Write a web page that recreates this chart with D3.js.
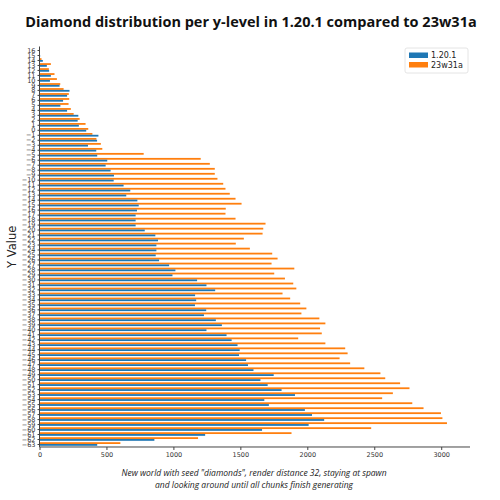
<!DOCTYPE html>
<html>
<head>
<meta charset="utf-8">
<script src="https://cdn.jsdelivr.net/npm/d3@7/dist/d3.min.js"></script>
<style>
  html, body { margin: 0; padding: 0; background: #fff; }
  svg { display: block; }
</style>
</head>
<body>
<svg id="chart" width="500" height="500"></svg>
<script>
// y-levels, top to bottom
const levels = d3.range(16, -64, -1);

// Diamond counts for 1.20.1 (same order as levels)
const v1201 = [
  3, 5, 25, 55, 72, 85, 78, 150, 224, 206,
  176, 156, 206, 290, 285, 294, 349, 440, 430, 362,
  424, 431, 506, 494, 531, 556, 554, 628, 678, 648,
  731, 741, 728, 718, 718, 718, 786, 865, 885, 873,
  873, 868, 893, 968, 1015, 993, 1177, 1247, 1312, 1162,
  1170, 1161, 1245, 1228, 1317, 1362, 1247, 1397, 1435, 1479,
  1495, 1490, 1543, 1557, 1598, 1749, 1650, 1704, 1808, 1908,
  1679, 1713, 1982, 2035, 2126, 2010, 1662, 1237, 858, 431
];

// Diamond counts for 23w31a (same order as levels)
const v23w31a = [
  1, 3, 15, 85, 70, 112, 130, 155, 180, 219,
  222, 217, 234, 255, 300, 344, 364, 395, 425, 458,
  469, 778, 1204, 1272, 1309, 1309, 1329, 1372, 1389, 1421,
  1464, 1509, 1391, 1389, 1464, 1688, 1671, 1666, 1526, 1466,
  1571, 1738, 1778, 1733, 1903, 1753, 1833, 1895, 1918, 1815,
  1872, 1947, 1993, 1956, 2090, 2135, 2095, 2108, 1932, 2135,
  2283, 2301, 2241, 2320, 2426, 2546, 2582, 2693, 2763, 2639,
  2559, 2784, 2868, 2998, 3009, 3043, 2477, 1882, 1184, 604
];

const seriesNames = ["1.20.1", "23w31a"];
const xTicks = [0, 500, 1000, 1500, 2000, 2500, 3000];

const title = "Diamond distribution per y-level in 1.20.1 compared to 23w31a";
const yLabel = "Y Value";
const caption = [
  "New world with seed \"diamonds\", render distance 32, staying at spawn",
  "and looking around until all chunks finish generating"
];

const colors = ["#1f77b4", "#ff7f0e"];
const svg = d3.select("#chart");

const x = d3.scaleLinear().domain([0, 3215]).range([39.5, 470]);
const y = d3.scaleLinear().domain([-63, 16]).range([444, 50]);
const barW = 0.36;

// bars
const data = levels.map((l, i) => ({ level: l, a: v1201[i], b: v23w31a[i] }));
const g = svg.append("g");
g.selectAll("rect.b").data(data).join("rect")
  .attr("class", "b")
  .attr("x", x(0))
  .attr("y", d => y(d.level + barW))
  .attr("height", d => y(d.level) - y(d.level + barW))
  .attr("width", d => x(d.b) - x(0))
  .attr("fill", colors[1]);
g.selectAll("rect.a").data(data).join("rect")
  .attr("class", "a")
  .attr("x", x(0))
  .attr("y", d => y(d.level))
  .attr("height", d => y(d.level - barW) - y(d.level))
  .attr("width", d => x(d.a) - x(0))
  .attr("fill", colors[0]);

// x axis
const xAxis = svg.append("g")
  .attr("transform", `translate(0,${y(-63.6)})`)
  .call(d3.axisBottom(x).tickValues(xTicks).tickSize(3).tickPadding(2).tickFormat(d3.format("d")));
xAxis.select(".domain").attr("d", `M${x(0)},0H470`).attr("stroke", "#444");
xAxis.selectAll(".tick line").attr("stroke", "#444");
xAxis.selectAll("text").attr("font-family", "DejaVu Sans").attr("font-size", "6.5px").attr("fill", "#333");

// y axis
const yAxis = svg.append("g")
  .attr("transform", `translate(${x(0)},0)`)
  .call(d3.axisLeft(y).tickValues(levels).tickSize(2).tickPadding(2).tickFormat(d3.format("d")));
yAxis.select(".domain").attr("d", `M0,${y(16.7)}V${y(-63.6)}`).attr("stroke", "#444");
yAxis.selectAll(".tick line").attr("stroke", "#444");
yAxis.selectAll("text").attr("font-family", "DejaVu Sans").attr("font-size", "6.5px").attr("fill", "#333");

// title
svg.append("text")
  .attr("x", 251).attr("y", 27)
  .attr("text-anchor", "middle")
  .attr("font-family", "Open Sans").attr("font-weight", "bold")
  .attr("font-size", "14.5px").attr("fill", "#111")
  .text(title);

// y label
svg.append("text")
  .attr("transform", `translate(16,${(y(16.7) + y(-63.6)) / 2}) rotate(-90)`)
  .attr("text-anchor", "middle")
  .attr("font-family", "DejaVu Sans").attr("font-size", "11.5px").attr("fill", "#222")
  .text(yLabel);

// caption
caption.forEach((line, i) => {
  svg.append("text")
    .attr("x", 254).attr("y", 476 + i * 12)
    .attr("text-anchor", "middle")
    .attr("font-family", "Open Sans").attr("font-style", "italic")
    .attr("font-size", "8.5px").attr("fill", "#222")
    .text(line);
});

// legend
const lg = svg.append("g").attr("transform", "translate(405,48)");
lg.append("rect").attr("width", 63).attr("height", 25).attr("rx", 2)
  .attr("fill", "#fff").attr("stroke", "#ddd").attr("stroke-width", 0.8);
seriesNames.forEach((n, i) => {
  lg.append("rect").attr("x", 4).attr("y", 4.5 + i * 9.5).attr("width", 19).attr("height", 5.5)
    .attr("fill", colors[i]);
  lg.append("text").attr("x", 26).attr("y", 10 + i * 9.5)
    .attr("font-family", "DejaVu Sans").attr("font-size", "8px").attr("fill", "#222")
    .text(n);
});
</script>
</body>
</html>
